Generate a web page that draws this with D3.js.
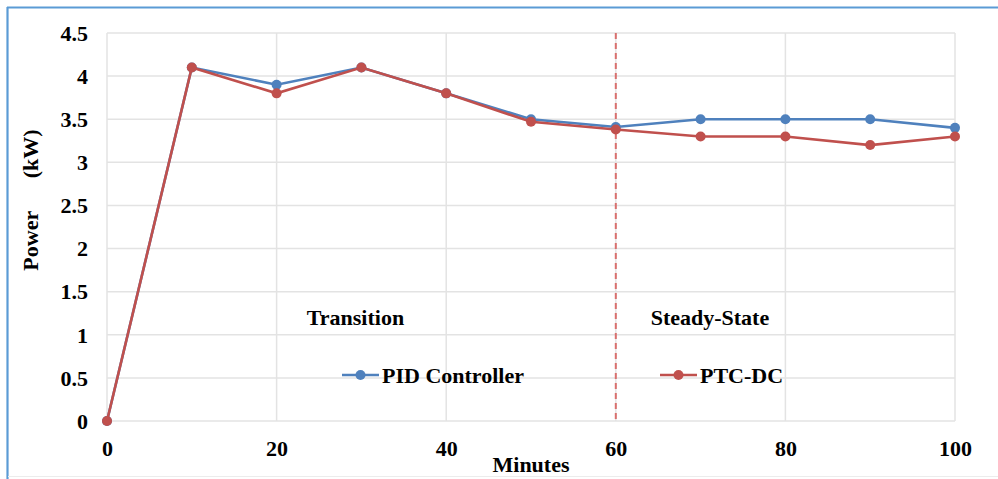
<!DOCTYPE html>
<html><head><meta charset="utf-8">
<script src="https://cdn.jsdelivr.net/npm/d3@7"></script>
<style>body{margin:0;background:#fff}svg{display:block}text{font-family:"Liberation Serif","Times New Roman",serif !important;font-weight:bold;fill:#000}</style>
</head><body><svg id="c" width="998" height="479"></svg>
<script>
const minutes = [0,10,20,30,40,50,60,70,80,90,100];
const pid = [0,4.1,3.9,4.1,3.8,3.5,3.41,3.5,3.5,3.5,3.4];
const ptc = [0,4.1,3.8,4.1,3.8,3.47,3.38,3.3,3.3,3.2,3.3];
const yTicks = [0,0.5,1,1.5,2,2.5,3,3.5,4,4.5];
const xTicks = [0,20,40,60,80,100];
const seriesNames = ["PID Controller","PTC-DC"];
const colors = ["#4f81bd","#c0504d"];
const regionLabels = [{t:"Transition",x:29.3},{t:"Steady-State",x:71.1}];
const dividerX = 60;

const svg = d3.select("#c");
const m = {l:107,r:955,t:33,b:421};
const x = d3.scaleLinear().domain([0,100]).range([m.l,m.r]);
const y = d3.scaleLinear().domain([0,4.5]).range([m.b,m.t]);

// outer frame
svg.append("line").attr("x1",7).attr("x2",998).attr("y1",7.5).attr("y2",7.5).attr("stroke","#5b9bd5").attr("stroke-width",2.2);
svg.append("line").attr("x1",7.5).attr("x2",7.5).attr("y1",7).attr("y2",479).attr("stroke","#5b9bd5").attr("stroke-width",2.2);
svg.append("line").attr("x1",8).attr("x2",998).attr("y1",476.5).attr("y2",476.5).attr("stroke","#ececec").attr("stroke-width",1);

// gridlines
svg.append("g").selectAll("line").data(yTicks).join("line")
  .attr("x1",m.l).attr("x2",m.r).attr("y1",d=>y(d)).attr("y2",d=>y(d))
  .attr("stroke","#e3e3e3").attr("stroke-width",1.5);
svg.append("g").selectAll("line").data(xTicks).join("line")
  .attr("x1",d=>x(d)).attr("x2",d=>x(d)).attr("y1",m.t).attr("y2",m.b)
  .attr("stroke","#e3e3e3").attr("stroke-width",1.5);

// axes (labels only)
const yAxis = d3.axisLeft(y).tickValues(yTicks).tickSize(0).tickPadding(0).tickFormat(d3.format("~g"));
const gy = svg.append("g").attr("transform",`translate(88,0)`).call(yAxis);
gy.attr("font-family",null).attr("font-size",null);
gy.select(".domain").remove();
gy.selectAll("text").attr("font-size",22).attr("dy","0.33em");
const xAxis = d3.axisBottom(x).tickValues(xTicks).tickSize(0).tickPadding(0);
const gx = svg.append("g").attr("transform",`translate(0,440)`).call(xAxis);
gx.attr("font-family",null).attr("font-size",null);
gx.select(".domain").remove();
gx.selectAll("text").attr("font-size",22).attr("dy","0.72em");

// axis titles
svg.append("text").attr("x",x(50)).attr("y",472).attr("text-anchor","middle").attr("font-size",22).text("Minutes");
svg.append("text").attr("transform","translate(38,200) rotate(-90)").attr("text-anchor","middle")
  .attr("font-size",22).style("white-space","pre").text("Power      (kW)");

// divider
svg.append("line").attr("x1",x(dividerX)).attr("x2",x(dividerX)).attr("y1",m.t).attr("y2",m.b)
  .attr("stroke","#d9706e").attr("stroke-width",2).attr("stroke-dasharray","6,4");

// region labels
svg.selectAll(".rl").data(regionLabels).join("text").attr("class","rl")
  .attr("x",d=>x(d.x)).attr("y",325).attr("text-anchor","middle").attr("font-size",22).text(d=>d.t);

// series
const line = d3.line().x((d,i)=>x(minutes[i])).y(d=>y(d));
[pid,ptc].forEach((s,k)=>{
  svg.append("path").datum(s).attr("d",line).attr("fill","none").attr("stroke",colors[k]).attr("stroke-width",2.6);
  svg.append("g").selectAll("circle").data(s).join("circle")
    .attr("cx",(d,i)=>x(minutes[i])).attr("cy",d=>y(d)).attr("r",5).attr("fill",colors[k]);
});

// legend
const legX = [342,660];
seriesNames.forEach((n,k)=>{
  const g = svg.append("g").attr("transform",`translate(${legX[k]},375)`);
  g.append("line").attr("x1",0).attr("x2",37).attr("stroke",colors[k]).attr("stroke-width",2.6);
  g.append("circle").attr("cx",18.5).attr("r",5).attr("fill",colors[k]);
  g.append("text").attr("x",40).attr("y",8).attr("font-size",22).text(n);
});
</script></body></html>
